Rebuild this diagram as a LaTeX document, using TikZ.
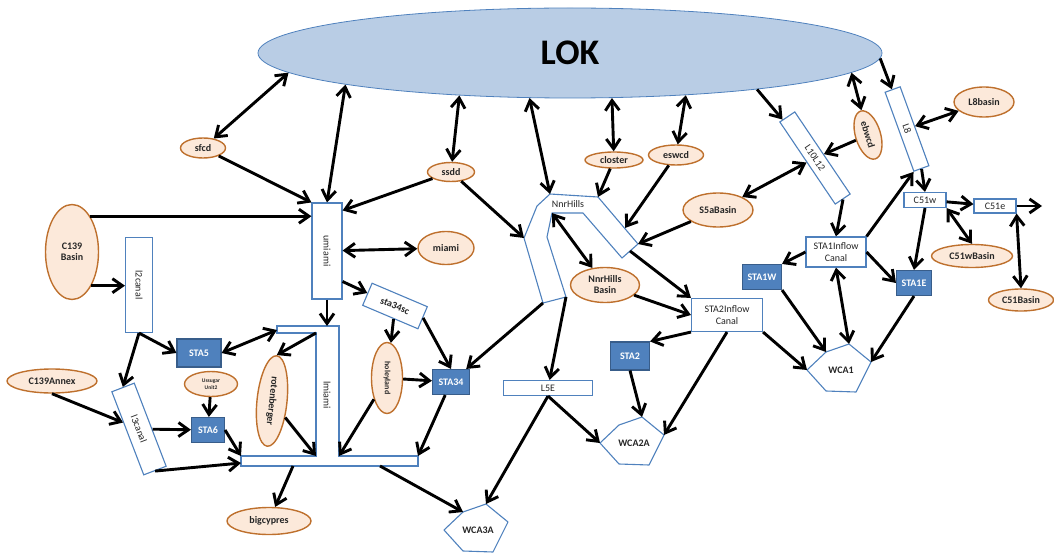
\documentclass[tikz,border=0pt]{standalone}
\usepackage{fontspec}
\setmainfont{Carlito}
\usetikzlibrary{shapes.geometric}
\usetikzlibrary{arrows.meta}
\usetikzlibrary{calc}

\definecolor{lokfill}{RGB}{185,205,229}
\definecolor{lokline}{RGB}{79,129,189}
\definecolor{canalline}{RGB}{79,129,189}
\definecolor{stafill}{RGB}{79,129,189}
\definecolor{staline}{RGB}{56,93,138}
\definecolor{basinfill}{RGB}{252,233,218}
\definecolor{basinline}{RGB}{190,112,45}
\definecolor{labeltext}{RGB}{38,38,38}

\tikzset{
  basin/.style={ellipse, draw=basinline, fill=basinfill, line width=1.4pt, inner sep=0pt, text=labeltext, align=center, font=\fontsize{10}{11}\selectfont\bfseries},
  canal/.style={rectangle, draw=canalline, fill=white, line width=1.1pt, inner sep=0pt, text=labeltext, align=center, font=\fontsize{10}{12}\selectfont},
  sta/.style={rectangle, draw=staline, fill=stafill, line width=1.1pt, inner sep=0pt, text=white, font=\fontsize{10}{11}\selectfont\bfseries},
  wca/.style={ellipse, inner sep=0pt, minimum width=62pt, minimum height=46pt, text=labeltext, font=\fontsize{10}{11}\selectfont\bfseries},
  wcaline/.style={draw=canalline, line width=1.1pt, line join=round},
  flow/.style={line width=2.9pt, -{Straight Barb[length=10pt,width=14pt]}},
  twoway/.style={line width=2.9pt, {Straight Barb[length=10pt,width=14pt]}-{Straight Barb[length=10pt,width=14pt]}}
}

\begin{document}
\begin{tikzpicture}[x=1pt, y=-1pt]
  \useasboundingbox (0,0) rectangle (1054,556);
  % lake
  \node[ellipse, draw=lokline, fill=lokfill, line width=0.8pt, minimum width=624pt, minimum height=90pt, inner sep=0pt, font=\fontsize{36}{36}\selectfont\bfseries] (lok) at (570,53) {LOK};

  % basins
  \node[basin, minimum width=45pt, minimum height=20pt] (sfcd) at (203,148) {sfcd};
  \node[basin, minimum width=53pt, minimum height=95pt] (c139) at (72,252) {C139\\Basin};
  \node[basin, minimum width=47pt, minimum height=19pt] (ssdd) at (451,172) {ssdd};
  \node[basin, minimum width=56pt, minimum height=33pt] (miami) at (446,248) {miami};
  \node[basin, minimum width=58pt, minimum height=16pt] (closter) at (614,160) {closter};
  \node[basin, minimum width=55pt, minimum height=20pt] (eswcd) at (676,155) {eswcd};
  \node[basin, minimum width=70pt, minimum height=34pt] (s5abasin) at (718,210) {S5aBasin};
  \node[basin, minimum width=69pt, minimum height=35pt] (nnrbasin) at (605,285) {NnrHills\\Basin};
  \node[basin, minimum width=25pt, minimum height=50pt, rotate=17] (ebwcd) at (868,135) {\rotatebox{-90}{ebwcd}};
  \node[basin, minimum width=90pt, minimum height=24pt] (c139annex) at (52,381) {C139Annex};
  \node[basin, minimum width=53pt, minimum height=25pt, font=\fontsize{5.5}{6.5}\selectfont\bfseries] (ussugar) at (211,384) {Ussugar\\Unit2};
  \node[basin, minimum width=30pt, minimum height=91pt, rotate=-6] (rotenberger) at (272,401) {\rotatebox{-90}{rotenberger}};
  \node[basin, minimum width=31pt, minimum height=71pt, font=\fontsize{8}{9}\selectfont\bfseries] (holeyland) at (387,378) {\rotatebox{-90}{holeyland}};
  \node[basin, minimum width=84pt, minimum height=27pt] (bigcypres) at (269,521) {bigcypres};
  \node[basin, minimum width=60pt, minimum height=30pt] (l8basin) at (984,102) {L8basin};
  \node[basin, minimum width=81pt, minimum height=23pt] (c51wbasin) at (972,256) {C51wBasin};
  \node[basin, minimum width=65pt, minimum height=22pt] (c51basin) at (1021,300) {C51Basin};

  % canals
  \node[canal, minimum width=30pt, minimum height=96pt] (umiami) at (327,251) {\rotatebox{-90}{umiami}};
  \node[canal, minimum width=27pt, minimum height=95pt] (l2canal) at (139,285) {\rotatebox{-90}{l2canal}};
  \node[canal, minimum width=24pt, minimum height=89pt, rotate=21] (l3canal) at (139,429) {\rotatebox{-90}{l3canal}};
  \node[canal, minimum width=60pt, minimum height=24pt, rotate=-23, font=\fontsize{10}{12}\selectfont\bfseries] (sta34sc) at (395,306) {sta34sc};
  \node[canal, minimum width=89pt, minimum height=15pt] (l5e) at (548,388) {L5E};
  \node[canal, minimum width=71pt, minimum height=33pt] (sta2inflow) at (727,315) {STA2Inflow\\Canal};
  \node[canal, minimum width=60pt, minimum height=30pt] (sta1inflow) at (836,252) {STA1Inflow\\Canal};
  \node[canal, minimum width=18pt, minimum height=99pt, rotate=34] (l10l12) at (815,158) {\rotatebox{-90}{L10L12}};
  \node[canal, minimum width=16pt, minimum height=84pt, rotate=20] (l8) at (907,129) {\rotatebox{-90}{L8}};
  \node[canal, minimum width=42pt, minimum height=15pt] (c51w) at (925,200) {C51w};
  \node[canal, minimum width=42pt, minimum height=14pt] (c51e) at (995,206) {C51e};
  \coordinate (c51out) at (1042,206);

  % lmiami
  \draw[canalline, line width=1.1pt] (277,326) -- (339,326) -- (339,456) coordinate (lm-in3) -- (418,456) coordinate (lm-ne) -- (418,466) -- (241,466) -- (241,456) coordinate (lm-nw) -- (316,456) coordinate (lm-in2) -- (316,333) coordinate (lm-in1) -- (277,333) -- cycle;
  \node[text=labeltext, font=\fontsize{10}{12}\selectfont] (lmiami) at (327,395) {\rotatebox{-90}{lmiami}};
  \coordinate (lm-top) at (327,326);
  \coordinate (lm-tl) at (277,330);
  \coordinate (lm-w) at (241,463);
  \coordinate (lm-b1) at (293,466);
  \coordinate (lm-b2) at (380,466);

  % NnrHills
  \draw[canalline, line width=1.1pt, line join=round] (543,303) coordinate (nnr-sw) -- (524,238) coordinate (nnr-w) -- (537,206) -- (550,194) coordinate (nnr-top) -- (598,197) coordinate (nnr-ne) -- (638,244) coordinate (nnr-e) -- (622,258) -- (583,213) -- (552,213) coordinate (nnr-in) -- (547,237) -- (566,297) coordinate (nnr-se) -- cycle;
  \node[text=labeltext, font=\fontsize{10}{12}\selectfont] (nnrhills) at (568,204) {NnrHills};
  \coordinate (nnr-e1) at (625,228);
  \coordinate (nnr-s) at (630,251);

  % stormwater treatment areas
  \node[sta, minimum width=44pt, minimum height=28pt] (sta5) at (199,353) {STA5};
  \node[sta, minimum width=33pt, minimum height=25pt] (sta6) at (208,430) {STA6};
  \node[sta, minimum width=37pt, minimum height=25pt] (sta34) at (451,382) {STA34};
  \node[sta, minimum width=39pt, minimum height=28pt] (sta2) at (630,356) {STA2};
  \node[sta, minimum width=39pt, minimum height=25pt] (sta1w) at (762,277) {STA1W};
  \node[sta, minimum width=35pt, minimum height=25pt] (sta1e) at (914,283) {STA1E};

  % conservation areas
  \node[wca] (wca1) at (841,370) {WCA1};
  \draw[wcaline] ($(wca1)+(-34,0)$) coordinate (wca1-l) -- ($(wca1)+(-15,-18)$) coordinate (wca1-k) -- ($(wca1)+(8,-26)$) coordinate (wca1-t) -- ($(wca1)+(30,-8)$) coordinate (wca1-r) -- ($(wca1)+(15,22)$) -- ($(wca1)+(-15,21)$) -- cycle;
  \node[wca] (wca2a) at (634,443) {WCA2A};
  \draw[wcaline] ($(wca2a)+(-34,0)$) coordinate (wca2a-l) -- ($(wca2a)+(-15,-18)$) coordinate (wca2a-k) -- ($(wca2a)+(8,-26)$) coordinate (wca2a-t) -- ($(wca2a)+(30,-8)$) coordinate (wca2a-r) -- ($(wca2a)+(15,22)$) -- ($(wca2a)+(-15,21)$) -- cycle;
  \node[wca] (wca3a) at (478,530) {WCA3A};
  \draw[wcaline] ($(wca3a)+(-34,0)$) coordinate (wca3a-l) -- ($(wca3a)+(-15,-18)$) coordinate (wca3a-k) -- ($(wca3a)+(8,-26)$) coordinate (wca3a-t) -- ($(wca3a)+(30,-8)$) coordinate (wca3a-r) -- ($(wca3a)+(15,22)$) -- ($(wca3a)+(-15,21)$) -- cycle;

  % links to the lake
  \draw[twoway] (lok.184) -- (sfcd);
  \draw[twoway] (lok.188) -- (umiami.north);
  \draw[twoway] (lok.201) -- (ssdd);
  \draw[twoway] (lok.228) -- (nnr-top);
  \draw[twoway] (lok.313) -- (closter);
  \draw[twoway] (lok.340) -- (eswcd);
  \draw[flow] (lok.349) -- (l10l12);
  \draw[twoway] (lok.356) -- (ebwcd);
  \draw[flow] (lok.359) -- (l8);

  % west side
  \draw[flow] (sfcd) -- (umiami.north west);
  \draw[flow] (ssdd) -- (umiami.69);
  \draw[flow] (ssdd) -- (nnr-w);
  \draw[flow] (c139.63) -- (c139.63 -| umiami.west);
  \draw[flow] (c139.-60) -- (c139.-60 -| l2canal.west);
  \draw[twoway] (umiami) -- (miami);
  \draw[flow] (umiami.-63) -- (sta34sc);
  \draw[flow] (umiami.south) -- (lm-top);
  \draw[flow] (sta34sc) -- (holeyland);
  \draw[flow] (sta34sc.east) -- (sta34.north);
  \draw[flow] (holeyland) -- (sta34);
  \draw[flow] (holeyland) -- (lm-in3);
  \draw[flow] (sta34) -- (lm-ne);
  \draw[flow] (l2canal.south) -- (sta5.west);
  \draw[flow] (l2canal.south) -- (l3canal.north);
  \draw[twoway] (sta5.east) -- (lm-tl);
  \draw[flow] (lm-in1) -- (rotenberger.north);
  \draw[flow] (rotenberger) -- (lm-in2);
  \draw[flow] (ussugar) -- (sta6);
  \draw[flow] (c139annex.south) -- (l3canal);
  \draw[flow] (l3canal) -- (sta6);
  \draw[flow] (sta6.east) -- (lm-nw);
  \draw[flow] (l3canal.south) -- (lm-w);
  \draw[flow] (lm-b1) -- (bigcypres);
  \draw[flow] (lm-b2) -- (wca3a-k);

  % NnrHills
  \draw[flow] (closter) -- (nnr-ne);
  \draw[flow] (eswcd) -- (nnr-e1);
  \draw[flow] (s5abasin) -- (nnr-e);
  \draw[twoway] (nnr-in) -- (nnrbasin);
  \draw[flow] (nnr-s) -- (sta2inflow.north west);
  \draw[flow] (nnr-sw) -- (sta34);
  \draw[flow] (nnr-se) -- (l5e);
  \draw[flow] (nnrbasin) -- (sta2inflow.west);

  % south
  \draw[flow] (l5e.south) -- (wca3a-t);
  \draw[flow] (l5e.south) -- (wca2a-l);
  \draw[flow] (sta2.south) -- (wca2a-t);
  \draw[flow] (sta2inflow.south) -- (wca2a-r);
  \draw[flow] (sta2inflow.south west) -- (sta2.north east);
  \draw[flow] (sta2inflow.south east) -- (wca1-l);

  % east side
  \draw[twoway] (l10l12) -- (s5abasin);
  \draw[flow] (ebwcd) -- (l10l12);
  \draw[twoway] (l8) -- (l8basin);
  \draw[flow] (l8.south) -- (c51w.north);
  \draw[flow] (sta1inflow.north east) -- (l8.south west);
  \draw[flow] (l10l12.south) -- (sta1inflow.north);
  \draw[flow] (sta1inflow.west) -- (sta1w.north east);
  \draw[flow] (sta1inflow.east) -- (sta1e.west);
  \draw[flow] (c51w.south) -- (sta1e.north);
  \draw[flow] (c51w) -- (c51e);
  \draw[flow] (c51e.east) -- (c51out);
  \draw[twoway] (c51w.south east) -- (c51wbasin.north);
  \draw[twoway] (c51e.south east) -- (c51basin.north);
  \draw[twoway] (sta1inflow.south) -- (wca1-t);
  \draw[flow] (sta1w.south east) -- (wca1-k);
  \draw[flow] (sta1e.south) -- (wca1-r);
\end{tikzpicture}
\end{document}
